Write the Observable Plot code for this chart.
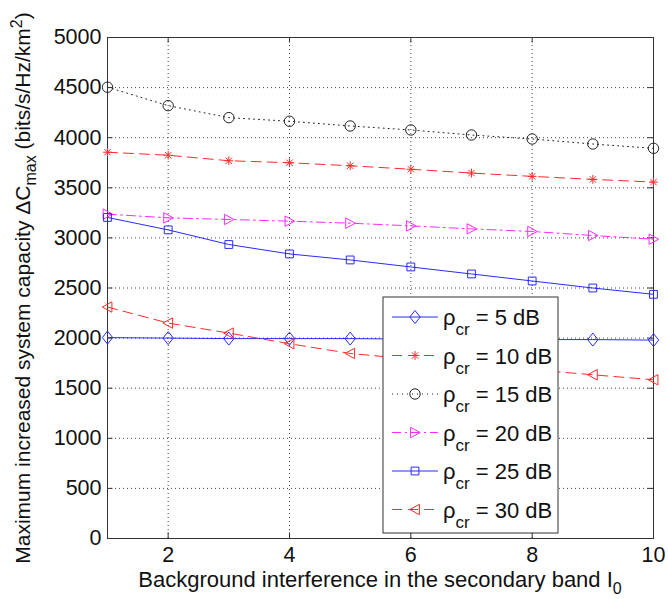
<!DOCTYPE html>
<html>
<head>
<meta charset="utf-8">
<script src="https://cdn.jsdelivr.net/npm/d3@7"></script>
<script src="https://cdn.jsdelivr.net/npm/@observablehq/plot@0.6"></script>
<style>
  body { margin: 0; background: #fff; }
  svg { font-family: "Liberation Sans", Arial, sans-serif; }
</style>
</head>
<body>
<div id="chart"></div>
<script>
// ---- data ----
const xValues = [1, 2, 3, 4, 5, 6, 7, 8, 9, 10];
const rho5  = [2005, 2000, 1995, 1995, 1995, 1990, 1990, 1985, 1985, 1980];
const rho10 = [3855, 3825, 3770, 3750, 3720, 3685, 3647, 3614, 3584, 3557];
const rho15 = [4504, 4320, 4200, 4164, 4117, 4077, 4027, 3987, 3937, 3894];
const rho20 = [3237, 3200, 3184, 3167, 3147, 3120, 3090, 3064, 3024, 2987];
const rho25 = [3204, 3080, 2934, 2840, 2780, 2710, 2640, 2570, 2500, 2437];
const rho30 = [2310, 2150, 2050, 1944, 1847, 1790, 1735, 1685, 1634, 1584];
const seriesNames = ["5 dB", "10 dB", "15 dB", "20 dB", "25 dB", "30 dB"];
const xTicks = [2, 4, 6, 8, 10];
const yTicks = [0, 500, 1000, 1500, 2000, 2500, 3000, 3500, 4000, 4500, 5000];

// ---- custom marker symbols ----
const R = s => Math.sqrt(s / Math.PI);
const symDiamond = {draw(c, s) { const r = R(s); c.moveTo(0, -r * 1.25); c.lineTo(r, 0); c.lineTo(0, r * 1.25); c.lineTo(-r, 0); c.closePath(); }};
const symStar = {draw(c, s) { const r = R(s) * 0.85; const d = r * 0.72;
  c.moveTo(-r, 0); c.lineTo(r, 0); c.moveTo(0, -r); c.lineTo(0, r);
  c.moveTo(-d, -d); c.lineTo(d, d); c.moveTo(-d, d); c.lineTo(d, -d); }};
const symCircle = {draw(c, s) { const r = R(s); c.moveTo(r, 0); c.arc(0, 0, r, 0, 2 * Math.PI); }};
const symTriRight = {draw(c, s) { const r = R(s); c.moveTo(r, 0); c.lineTo(-r * 0.85, -r); c.lineTo(-r * 0.85, r); c.closePath(); }};
const symSquare = {draw(c, s) { const r = R(s) * 0.75; c.rect(-r, -r, 2 * r, 2 * r); }};
const symTriLeft = {draw(c, s) { const r = R(s); c.moveTo(-r, 0); c.lineTo(r * 0.85, -r); c.lineTo(r * 0.85, r); c.closePath(); }};

const styles = [
  {values: rho5,  color: "#2a2aff", dash: null,        symbol: symDiamond},
  {values: rho10, color: "#ff2a2a", dash: "10,6",      symbol: symStar},
  {values: rho15, color: "#222222", dash: "1,4",       symbol: symCircle},
  {values: rho20, color: "#ff2aff", dash: "9,4,2,4",   symbol: symTriRight},
  {values: rho25, color: "#2a2aff", dash: null,        symbol: symSquare},
  {values: rho30, color: "#ff2a2a", dash: "10,6",      symbol: symTriLeft}
];

const series = styles.map((st, i) => ({
  ...st,
  name: seriesNames[i],
  data: xValues.map((x, j) => ({x, y: st.values[j]}))
}));

const marks = [
  Plot.ruleX(xTicks, {stroke: "#444", strokeDasharray: "1,3", strokeWidth: 1}),
  Plot.ruleY(yTicks, {stroke: "#444", strokeDasharray: "1,3", strokeWidth: 1}),
  // inward ticks (bottom/top/left/right)
  Plot.ruleX(xTicks, {y1: 0, y2: 55, stroke: "#333"}),
  Plot.ruleX(xTicks, {y1: 4945, y2: 5000, stroke: "#333"}),
  Plot.ruleY(yTicks, {x1: 1, x2: 1.09, stroke: "#333"}),
  Plot.ruleY(yTicks, {x1: 9.91, x2: 10, stroke: "#333"}),
  Plot.frame({stroke: "#333", strokeWidth: 1}),
  Plot.axisX({ticks: xTicks, tickSize: 0, tickPadding: 8, fontSize: 21.5, label: null, color: "#111", tickFormat: d3.format("d")}),
  Plot.axisY({ticks: yTicks, tickSize: 0, tickPadding: 6, fontSize: 21.5, label: null, color: "#111", tickFormat: d3.format("d")})
];
for (const s of series) {
  marks.push(Plot.line(s.data, {x: "x", y: "y", stroke: s.color, strokeWidth: 1, strokeDasharray: s.dash ?? undefined}));
  marks.push(Plot.dot(s.data, {x: "x", y: "y", symbol: () => s.symbol, stroke: s.color, fill: "none", r: 5.2, strokeWidth: 1}));
}

const svg = Plot.plot({
  width: 668,
  height: 599,
  marginLeft: 107,
  marginRight: 15,
  marginTop: 37,
  marginBottom: 61,
  style: {fontFamily: '"Liberation Sans", Arial, sans-serif', background: "#fff"},
  x: {domain: [1, 10]},
  y: {domain: [0, 5000]},
  marks
});

const root = d3.select(svg);

// y-axis label
const yl = root.append("text")
  .attr("transform", "translate(30,288) rotate(-90)")
  .attr("text-anchor", "middle")
  .attr("font-size", 21)
  .attr("fill", "#111");
yl.append("tspan").text("Maximum increased system capacity ΔC");
yl.append("tspan").attr("font-size", 16).attr("dy", 6).text("max");
yl.append("tspan").attr("dy", -6).text(" (bits/s/Hz/km");
yl.append("tspan").attr("font-size", 16).attr("dy", -8).text("2");
yl.append("tspan").attr("dy", 8).text(")");

// x-axis label
const xl = root.append("text")
  .attr("x", 380).attr("y", 587)
  .attr("text-anchor", "middle")
  .attr("font-size", 22)
  .attr("fill", "#111");
xl.append("tspan").text("Background interference in the secondary band I");
xl.append("tspan").attr("font-size", 16).attr("dy", 7).text("0");

// legend
const lg = root.append("g");
lg.append("rect").attr("x", 383).attr("y", 297).attr("width", 175).attr("height", 236)
  .attr("fill", "#fff").attr("stroke", "#333").attr("stroke-width", 1);
series.forEach((s, i) => {
  const cy = 317 + i * 38.5;
  lg.append("line").attr("x1", 392).attr("x2", 438).attr("y1", cy).attr("y2", cy)
    .attr("stroke", s.color).attr("stroke-width", 1).attr("stroke-dasharray", s.dash);
  lg.append("path").attr("transform", `translate(415,${cy})`)
    .attr("d", d3.symbol(s.symbol, Math.PI * 5.2 * 5.2)())
    .attr("fill", "none").attr("stroke", s.color);
  const t = lg.append("text").attr("x", 443).attr("y", cy + 8).attr("font-size", 22)
    .attr("text-anchor", "start").attr("fill", "#111");
  t.append("tspan").text("ρ");
  t.append("tspan").attr("font-size", 17).attr("dy", 10).text("cr");
  t.append("tspan").attr("dy", -10).text(" = " + s.name);
});

document.getElementById("chart").appendChild(svg);
</script>
</body>
</html>
